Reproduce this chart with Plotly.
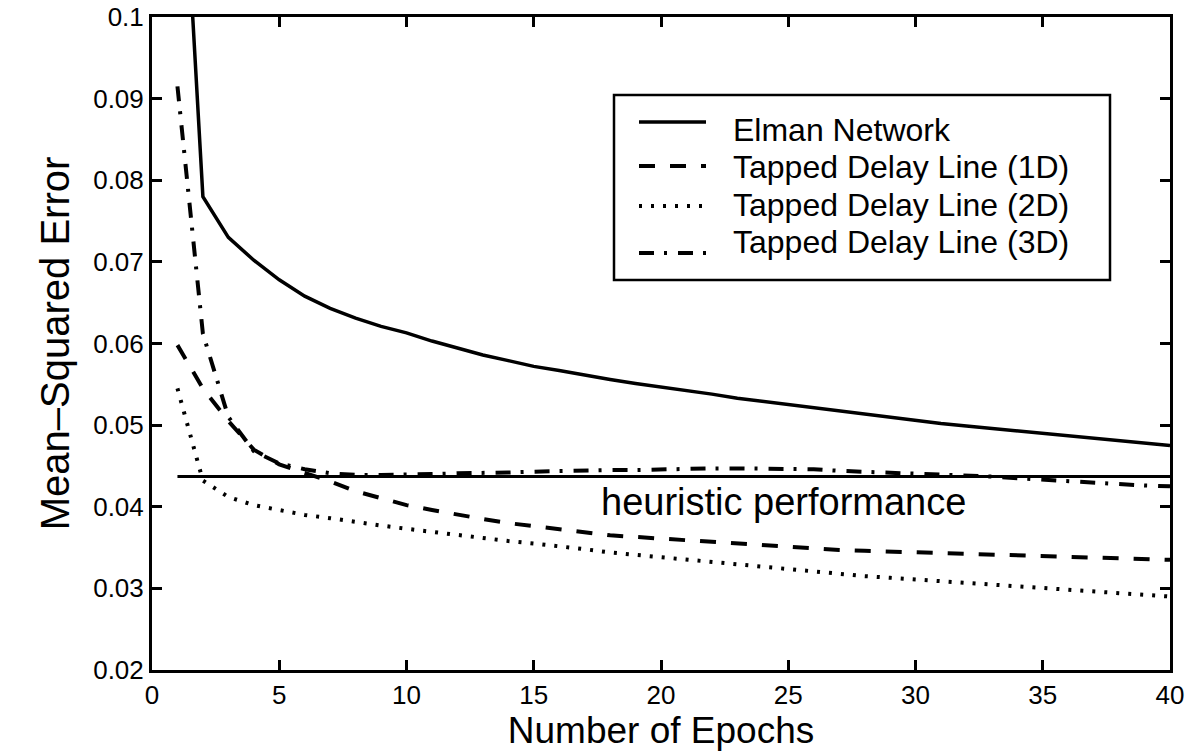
import plotly.graph_objects as go

# Training error per epoch for each network type
epochs = list(range(1, 41))

elman = [0.133, 0.0780, 0.0730, 0.0702, 0.0678, 0.0658, 0.0643, 0.0631, 0.0621, 0.0613,
         0.0603, 0.0594, 0.0586, 0.0579, 0.0572, 0.0567, 0.0561, 0.0556, 0.0551, 0.0547,
         0.0542, 0.0538, 0.0533, 0.0529, 0.0525, 0.0521, 0.0517, 0.0513, 0.0509, 0.0505,
         0.0502, 0.0499, 0.0496, 0.0493, 0.0490, 0.0487, 0.0484, 0.0481, 0.0478, 0.0475]

tdl_1d = [0.0598, 0.0545, 0.0505, 0.0470, 0.0452, 0.0442, 0.0431, 0.0419, 0.0410, 0.0402,
          0.0396, 0.0390, 0.0385, 0.0380, 0.0376, 0.0372, 0.0368, 0.0365, 0.0363, 0.0361,
          0.0359, 0.0356, 0.0354, 0.0353, 0.0351, 0.0349, 0.0347, 0.0346, 0.0345, 0.0344,
          0.0343, 0.0342, 0.0341, 0.0340, 0.0339, 0.0338, 0.0337, 0.0336, 0.0335, 0.0335]

tdl_2d = [0.0545, 0.0432, 0.0412, 0.0402, 0.0396, 0.0390, 0.0386, 0.0381, 0.0377, 0.0373,
          0.0369, 0.0366, 0.0362, 0.0358, 0.0355, 0.0352, 0.0348, 0.0344, 0.0341, 0.0339,
          0.0336, 0.0333, 0.0330, 0.0327, 0.0324, 0.0321, 0.0318, 0.0315, 0.0313, 0.0311,
          0.0309, 0.0307, 0.0305, 0.0303, 0.0301, 0.0299, 0.0297, 0.0295, 0.0292, 0.0290]

tdl_3d = [0.0915, 0.0612, 0.0510, 0.0468, 0.0453, 0.0446, 0.0441, 0.0439, 0.0439, 0.0439,
          0.0440, 0.0441, 0.0441, 0.0442, 0.0443, 0.0444, 0.0444, 0.0445, 0.0445, 0.0446,
          0.0446, 0.0447, 0.0447, 0.0447, 0.0446, 0.0446, 0.0444, 0.0443, 0.0442, 0.0441,
          0.0439, 0.0438, 0.0437, 0.0435, 0.0433, 0.0431, 0.0430, 0.0428, 0.0426, 0.0425]

heuristic_epochs = [1, 40]
heuristic_mse = 0.0437

series_names = ["Elman Network", "Tapped Delay Line (1D)",
                "Tapped Delay Line (2D)", "Tapped Delay Line (3D)"]

x_ticks = [0, 5, 10, 15, 20, 25, 30, 35, 40]
y_ticks = [0.02, 0.03, 0.04, 0.05, 0.06, 0.07, 0.08, 0.09, 0.1]
y_tick_text = ["0.02", "0.03", "0.04", "0.05", "0.06", "0.07", "0.08", "0.09", "0.1"]

FONT = "Liberation Sans, Arial, Helvetica, sans-serif"
styles = [
    dict(width=3.5, dash="solid"),
    dict(width=4, dash="16px,15px"),
    dict(width=4, dash="3px,9px"),
    dict(width=4, dash="15px,10px,3px,11px"),
]
series = [elman, tdl_1d, tdl_2d, tdl_3d]

fig = go.Figure()
for name, ys, st in zip(series_names, series, styles):
    fig.add_trace(go.Scatter(x=epochs, y=ys, mode="lines", name=name,
                             line=dict(color="black", **st), showlegend=False))

fig.add_trace(go.Scatter(x=heuristic_epochs, y=[heuristic_mse] * len(heuristic_epochs),
                         mode="lines", name="heuristic performance",
                         line=dict(color="black", width=3), showlegend=False))

fig.add_annotation(x=24.8, y=0.0406, xref="x", yref="y", text="heuristic performance",
                   showarrow=False, font=dict(family=FONT, size=38, color="black"))

# Boxed key in the upper right of the axes
W, H = 1189, 755
L, R, T, B = 152, 19, 17, 85
pw, ph = W - L - R, H - T - B


def px(x):
    return (x - L) / pw


def py(y):
    return (H - B - y) / ph


fig.add_shape(type="rect", xref="paper", yref="paper",
              x0=px(614), x1=px(1110), y0=py(280), y1=py(95),
              line=dict(color="black", width=2.5), fillcolor="white", layer="above")

sample_y = [122, 166, 206, 253]
text_y = [130, 167, 205, 242]
for name, st, sy, ty in zip(series_names, styles, sample_y, text_y):
    fig.add_shape(type="line", xref="paper", yref="paper",
                  x0=px(639), x1=px(706), y0=py(sy), y1=py(sy),
                  line=dict(color="black", width=st["width"],
                            dash=None if st["dash"] == "solid" else st["dash"]),
                  layer="above")
    fig.add_annotation(x=px(731), y=py(ty), xref="paper", yref="paper", text=name,
                       xanchor="left", yanchor="middle", showarrow=False,
                       font=dict(family=FONT, size=32, color="black"))

axis_common = dict(showline=True, linecolor="black", linewidth=3, mirror="ticks",
                   ticks="inside", ticklen=10, tickwidth=3, tickcolor="black",
                   showgrid=False, zeroline=False,
                   tickfont=dict(family=FONT, size=26, color="black"))

fig.update_xaxes(range=[0, 40], tickvals=x_ticks,
                 title=dict(text="Number of Epochs", font=dict(family=FONT, size=37, color="black"),
                            standoff=8),
                 **axis_common)
fig.update_yaxes(range=[0.02, 0.1], tickvals=y_ticks, ticktext=y_tick_text,
                 title=dict(text="Mean\u2013Squared Error", font=dict(family=FONT, size=40, color="black"),
                            standoff=12),
                 **axis_common)

fig.update_layout(width=W, height=H, margin=dict(l=L, r=R, t=T, b=B, autoexpand=False),
                  paper_bgcolor="white", plot_bgcolor="white",
                  font=dict(family=FONT, color="black"))

fig.write_html("out.html")
